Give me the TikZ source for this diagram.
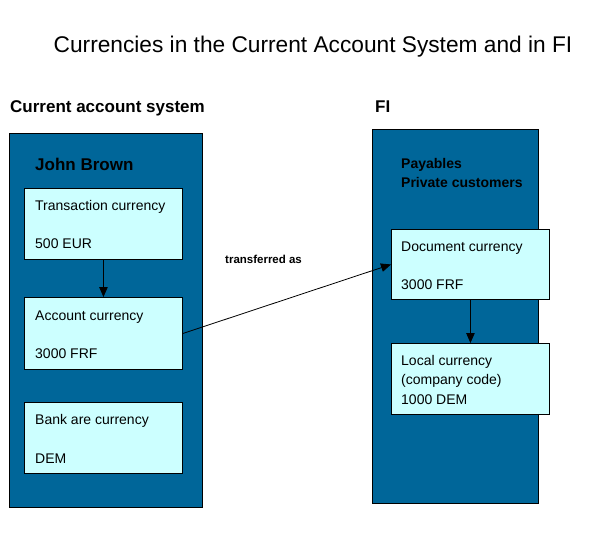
\documentclass[tikz,border=0pt]{standalone}
\usepackage{fontspec}
\setmainfont{Liberation Sans}
\usetikzlibrary{arrows.meta}
\definecolor{panelblue}{RGB}{0,102,153}
\definecolor{boxcyan}{RGB}{204,255,255}
\begin{document}
\begin{tikzpicture}[x=1pt,y=-1pt,
  panel/.style={draw=black,line width=0.9pt,fill=panelblue,inner sep=0pt,anchor=north west},
  cbox/.style={draw=black,line width=0.9pt,fill=boxcyan,inner sep=0pt,anchor=north west,minimum width=158pt},
  txt/.style={anchor=base west,inner sep=0pt,font=\fontsize{14}{16}\selectfont},
  btxt/.style={anchor=base west,inner sep=0pt,font=\fontsize{17}{19}\selectfont\bfseries},
  conn/.style={line width=0.8pt,-{Triangle[length=10pt,width=8.5pt]}}]
\useasboundingbox (0,0) rectangle (594,541);
\node[anchor=base,inner sep=0pt,font=\fontsize{22.7}{25}\selectfont] (title) at (313,52) {Currencies in the Current Account System and in FI};
\node[btxt] (lefthead) at (10,112) {Current account system};
\node[btxt] (righthead) at (375,112) {FI};
% left panel
\node[panel,minimum width=193pt,minimum height=374pt] (lp) at (9,133) {};
\node[btxt] (john) at (35,170) {John Brown};
\node[cbox,minimum height=71pt] (trans) at (24,188) {};
\node[txt] (t1) at (35,210) {Transaction currency};
\node[txt] (t2) at (35,248) {500 EUR};
\node[cbox,minimum height=72pt] (acc) at (24,297) {};
\node[txt] (a1) at (35,320) {Account currency};
\node[txt] (a2) at (35,358) {3000 FRF};
\node[cbox,minimum height=71pt] (bank) at (24,402) {};
\node[txt] (b1) at (35,424) {Bank are currency};
\node[txt] (b2) at (35,463) {DEM};
% right panel
\node[panel,minimum width=166pt,minimum height=374pt] (rp) at (372,129) {};
\node[anchor=base west,inner sep=0pt,font=\fontsize{14}{16}\selectfont\bfseries] (pay) at (401,168) {Payables};
\node[anchor=base west,inner sep=0pt,font=\fontsize{14}{16}\selectfont\bfseries] (priv) at (401,187) {Private customers};
\node[cbox,minimum height=70pt] (doc) at (391,229) {};
\node[txt] (d1) at (401,251) {Document currency};
\node[txt] (d2) at (401,289) {3000 FRF};
\node[cbox,minimum height=71pt] (loc) at (391,343) {};
\node[txt] (l1) at (401,365) {Local currency};
\node[txt] (l2) at (401,384.5) {(company code)};
\node[txt] (l3) at (401,404) {1000 DEM};
% label
\node[anchor=base west,inner sep=0pt,font=\fontsize{11.5}{13}\selectfont\bfseries] (tr) at (225,263) {transferred as};
% connectors
\draw[conn] (trans.south) -- (acc.north);
\draw[conn] (acc.east) -- (doc.west);
\draw[conn] (doc.south) -- (loc.north);
\end{tikzpicture}
\end{document}
